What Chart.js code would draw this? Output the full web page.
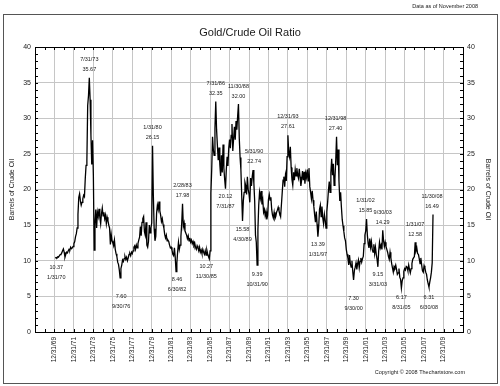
<!DOCTYPE html>
<html>
<head>
<meta charset="utf-8">
<title>Gold/Crude Oil Ratio</title>
<script src="https://cdn.jsdelivr.net/npm/chart.js@4.4.0/dist/chart.umd.min.js"></script>
<style>
    html, body { margin: 0; padding: 0; background: #fff; }
    #ratioChart { display: block; }
</style>
</head>
<body>
<canvas id="ratioChart" width="500" height="386"></canvas>
<script>
// Monthly gold/crude oil ratio (barrels of oil per ounce), Jan 1970 - Nov 2008
const ratio1970s = [
    10.37, 10.45, 10.40, 10.55, 10.50, 10.70, 10.85, 10.90, 11.10, 11.40, 11.65, 11.20,
    10.50, 10.90, 11.20, 11.10, 11.40, 11.60, 11.50, 11.90, 11.70, 11.80, 12.00, 12.40,
    12.70, 13.40, 13.80, 14.60, 16.50, 18.90, 19.40, 18.40, 17.80, 18.20, 18.70, 19.20,
    19.00, 21.50, 23.40, 24.10, 31.80, 33.20, 35.67, 32.60, 27.60, 23.50, 26.90, 22.00,
    11.50, 15.20, 17.20, 14.60, 16.80, 16.20, 17.30, 16.10, 15.20, 16.60, 17.40, 16.30,
    16.80, 15.90, 16.40, 15.20, 16.10, 15.60, 15.00, 14.60, 12.30, 13.70, 12.80, 12.50,
    12.10, 12.90, 11.60, 11.00, 10.60, 9.80, 9.50, 8.70, 7.60, 8.90, 9.40, 10.10,
    9.90, 10.30, 10.60, 10.20, 10.50, 10.00, 10.40, 10.90, 11.00, 10.70, 11.20, 11.00,
    11.40, 11.90, 12.10, 11.60, 12.20, 11.80, 12.40, 12.90, 13.30, 14.80, 13.50, 15.40,
    15.90, 16.20, 14.10, 13.60, 15.40, 12.20, 11.90, 12.70, 15.00, 13.90, 14.60, 15.30
];
const ratio1980s = [
    26.15, 19.20, 14.50, 12.80, 13.40, 16.70, 17.80, 17.20, 18.30, 17.00, 16.40, 15.50,
    15.90, 15.10, 14.60, 13.70, 13.20, 13.60, 12.80, 12.90, 12.70, 12.20, 11.80, 11.90,
    11.50, 10.90, 10.70, 11.80, 10.50, 8.46, 9.70, 11.30, 12.60, 11.60, 12.20, 13.40,
    15.30, 17.98, 14.80, 15.30, 14.20, 13.90, 13.60, 13.10, 13.50, 12.80, 13.20, 12.60,
    12.90, 12.40, 12.70, 12.20, 12.50, 11.90, 11.60, 12.10, 11.80, 11.40, 11.90, 11.20,
    11.50, 11.00, 11.60, 11.20, 10.90, 11.40, 10.80, 11.50, 11.00, 10.60, 10.27, 11.40,
    19.50, 22.80, 27.40, 25.60, 24.80, 28.60, 32.35, 28.40, 26.20, 24.10, 25.90, 23.50,
    21.90, 24.80, 22.40, 26.30, 23.00, 21.40, 20.12, 22.80, 24.60, 23.30, 25.80, 27.00,
    25.80, 27.60, 29.20, 25.40, 27.10, 28.80, 27.00, 29.60, 28.40, 30.30, 32.00, 27.20,
    24.50, 22.80, 19.20, 15.58, 18.40, 19.60, 21.00, 20.50, 19.30, 21.80, 20.00, 19.40
];
const ratio1990s = [
    18.20, 21.60, 20.50, 21.80, 22.74, 20.90, 18.40, 13.60, 12.60, 9.39, 14.40, 17.80,
    19.60, 18.80, 19.80, 17.90, 18.50, 16.80, 17.20, 16.30, 16.90, 15.80, 16.40, 18.60,
    19.30, 18.50, 18.90, 17.20, 16.40, 16.00, 16.80, 15.90, 16.20, 16.80, 17.10, 17.50,
    17.00, 16.60, 16.20, 17.90, 19.60, 21.30, 21.80, 20.40, 22.00, 21.20, 24.60, 27.61,
    25.20, 24.60, 26.00, 23.10, 21.40, 20.60, 22.40, 21.30, 22.80, 21.90, 23.00, 22.10,
    21.60, 22.90, 21.80, 20.50, 21.40, 22.60, 21.30, 22.50, 20.80, 22.30, 21.70, 22.80,
    21.20, 23.00, 20.40, 19.60, 18.70, 19.80, 18.50, 17.60, 16.40, 15.40, 16.90, 15.10,
    13.39, 14.80, 17.20, 17.80, 16.20, 17.60, 16.00, 15.20, 16.50, 15.70, 14.60, 16.90,
    18.20, 19.90, 21.10, 19.60, 22.40, 24.30, 22.00, 23.60, 20.60, 21.50, 24.10, 27.40,
    23.40, 25.60, 21.20, 18.40, 19.60, 17.50, 15.80, 14.90, 14.10, 13.20, 12.80, 11.60
];
const ratio2000s = [
    10.90, 10.40, 9.40, 10.80, 9.60, 9.10, 10.00, 8.50, 7.30, 8.60, 9.10, 9.70,
    8.80, 9.60, 10.10, 9.00, 9.90, 10.40, 9.80, 10.30, 10.60, 12.40, 13.60, 14.20,
    15.85, 13.60, 12.40, 11.80, 13.10, 11.90, 12.70, 11.60, 11.20, 12.30, 11.00, 11.90,
    10.90, 10.20, 9.15, 11.40, 12.60, 11.80, 12.20, 11.60, 14.29, 12.80, 12.00, 12.60,
    12.00, 11.60, 11.20, 10.60, 10.20, 11.20, 10.40, 9.60, 9.00, 8.40, 9.20, 9.00,
    9.40, 8.80, 8.10, 8.30, 8.90, 7.70, 7.40, 6.17, 7.20, 7.60, 8.50, 8.90,
    8.70, 9.20, 9.10, 8.60, 9.40, 8.80, 8.30, 8.90, 9.60, 10.20, 10.40, 10.60,
    12.58, 11.40, 11.80, 11.00, 10.90, 10.30, 9.60, 10.40, 9.40, 8.60, 8.40, 9.30,
    9.00, 8.40, 8.10, 7.30, 6.80, 6.31, 7.00, 7.60, 8.40, 9.70, 16.49
];

// x axis tick labels (every other year end)
const xTickLabels = [
    '12/31/69', '12/31/71', '12/31/73', '12/31/75', '12/31/77', '12/31/79', '12/31/81',
    '12/31/83', '12/31/85', '12/31/87', '12/31/89', '12/31/91', '12/31/93', '12/31/95',
    '12/31/97', '12/31/99', '12/31/01', '12/31/03', '12/31/05', '12/31/07', '12/31/09'
];

// annotated highs and lows
const noteDates = [
    '1/31/70', '7/31/73', '9/30/76', '1/31/80', '6/30/82', '2/28/83', '11/30/85', '7/31/86',
    '7/31/87', '11/30/88', '4/30/89', '5/31/90', '10/31/90', '12/31/93', '1/31/97', '12/31/98',
    '9/30/00', '1/31/02', '3/31/03', '9/30/03', '8/31/05', '1/31/07', '6/30/08', '11/30/08'
];
const noteValues = [
    10.37, 35.67, 7.60, 26.15, 8.46, 17.98, 10.27, 32.35,
    20.12, 32.00, 15.58, 22.74, 9.39, 27.61, 13.39, 27.40,
    7.30, 15.85, 9.15, 14.29, 6.17, 12.58, 6.31, 16.49
];
const noteAbove = [
    false, true, false, true, false, true, false, true,
    false, true, false, true, false, true, false, true,
    false, true, false, true, false, true, false, true
];

// label placement relative to the marked point, in pixels [dx, dy of first line]
const noteOffsets = [
    [1, 9], [0, -18], [1, 19], [0, -18], [1, 8], [0, -18], [-3, 8], [0, -18],
    [0, 8], [0, -18], [0, 8], [1, -18], [0, 9], [0, -19], [0, 8], [-1, -18],
    [0, 18], [-1, -19], [0, 8], [0, -18], [0, 9], [0, -18], [0, 10], [-1, -18]
];

function dateToYear(s) {
    const [m, d, y] = s.split('/').map(Number);
    return (y < 50 ? 2000 + y : 1900 + y) + m / 12;
}

const allRatios = [...ratio1970s, ...ratio1980s, ...ratio1990s, ...ratio2000s];
const points = allRatios.map((v, i) => ({ x: 1970 + (i + 1) / 12, y: v }));
const xTickValues = xTickLabels.map(dateToYear);

const FONT = '"Liberation Sans", Arial, sans-serif';
const TEXT = '#1a1a1a';

// frame, title, notes and small tick marks
const decorations = {
    id: 'decorations',
    beforeDraw(chart) {
        const ctx = chart.ctx;
        ctx.save();
        ctx.fillStyle = '#fff';
        ctx.fillRect(0, 0, chart.width, chart.height);
        ctx.restore();
    },
    afterDraw(chart) {
        const ctx = chart.ctx;
        const area = chart.chartArea;
        const xs = chart.scales.x;
        const ys = chart.scales.y;
        ctx.save();

        // outer frame
        ctx.strokeStyle = '#555';
        ctx.lineWidth = 1;
        ctx.strokeRect(3.5, 14.5, 494, 369);

        // plot border
        ctx.strokeStyle = '#000';
        ctx.strokeRect(area.left + 0.5, area.top + 0.5, area.right - area.left, area.bottom - area.top);

        // minor ticks
        ctx.beginPath();
        for (let yr = 1968; yr <= 2012; yr++) {
            const px = Math.round(xs.getPixelForValue(yr)) + 0.5;
            ctx.moveTo(px, area.top);
            ctx.lineTo(px, area.top + 3);
            ctx.moveTo(px, area.bottom);
            ctx.lineTo(px, area.bottom - 3);
        }
        for (let v = 0; v <= 40; v++) {
            const py = Math.round(ys.getPixelForValue(v)) + 0.5;
            ctx.moveTo(area.left, py);
            ctx.lineTo(area.left + 3, py);
            ctx.moveTo(area.right, py);
            ctx.lineTo(area.right - 3, py);
        }
        ctx.stroke();

        // titles
        ctx.fillStyle = TEXT;
        ctx.textAlign = 'center';
        ctx.textBaseline = 'middle';
        ctx.font = '11px ' + FONT;
        ctx.fillText('Gold/Crude Oil Ratio', 250, 33);

        ctx.font = '5.5px ' + FONT;
        ctx.textAlign = 'right';
        ctx.fillText('Data as of November 2008', 478, 6);
        ctx.fillText('Copyright \u00A9 2008 Thechartstore.com', 465, 372);

        // notes
        ctx.textAlign = 'center';
        ctx.font = '5.5px ' + FONT;
        noteDates.forEach((d, i) => {
            const px = xs.getPixelForValue(dateToYear(d)) + noteOffsets[i][0];
            const py = ys.getPixelForValue(noteValues[i]) + noteOffsets[i][1];
            const valueText = noteValues[i].toFixed(2);
            const lines = noteAbove[i] ? [d, valueText] : [valueText, d];
            ctx.fillText(lines[0], px, py);
            ctx.fillText(lines[1], px, py + 10);
        });

        ctx.restore();
    }
};

const gridColor = '#c6c6c6';

new Chart(document.getElementById('ratioChart'), {
    type: 'line',
    data: {
        datasets: [{
            label: 'Gold/Crude Oil Ratio',
            data: points,
            borderColor: '#000',
            borderWidth: 1.3,
            pointRadius: 0,
            tension: 0,
            fill: false
        }]
    },
    options: {
        responsive: false,
        animation: false,
        devicePixelRatio: 1,
        layout: { padding: { left: 3, right: 3, top: 47, bottom: 0 } },
        plugins: {
            legend: { display: false },
            tooltip: { enabled: false }
        },
        scales: {
            x: {
                type: 'linear',
                min: 1968,
                max: 2012,
                afterBuildTicks: (axis) => {
                    axis.ticks = xTickValues.map(v => ({ value: v }));
                },
                afterFit: (axis) => { axis.height = 54; },
                grid: { color: gridColor, drawTicks: false },
                border: { color: '#000' },
                ticks: {
                    autoSkip: false,
                    maxRotation: 90,
                    minRotation: 90,
                    padding: 5,
                    color: TEXT,
                    font: { family: FONT, size: 6.5 },
                    callback: (value, index) => xTickLabels[index]
                }
            },
            y: {
                position: 'left',
                min: 0,
                max: 40,
                afterFit: (axis) => { axis.width = 32; },
                grid: { color: gridColor, drawTicks: false },
                border: { color: '#000' },
                title: {
                    display: true,
                    text: 'Barrels of Crude Oil',
                    color: TEXT,
                    font: { family: FONT, size: 7 },
                    padding: { top: 5, bottom: 0 }
                },
                ticks: {
                    stepSize: 5,
                    padding: 4,
                    color: TEXT,
                    font: { family: FONT, size: 7 }
                }
            },
            y2: {
                position: 'right',
                min: 0,
                max: 40,
                afterFit: (axis) => { axis.width = 34; },
                grid: { drawOnChartArea: false, drawTicks: false },
                border: { color: '#000' },
                title: {
                    display: true,
                    text: 'Barrels of Crude Oil',
                    color: TEXT,
                    font: { family: FONT, size: 7 },
                    padding: { top: 5, bottom: 0 }
                },
                ticks: {
                    stepSize: 5,
                    padding: 4,
                    color: TEXT,
                    font: { family: FONT, size: 7 }
                }
            }
        }
    },
    plugins: [decorations]
});
</script>
</body>
</html>
